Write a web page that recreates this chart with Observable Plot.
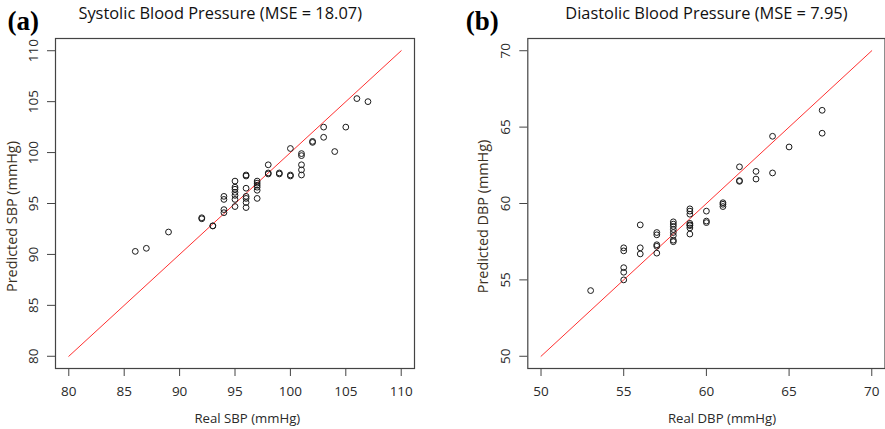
<!DOCTYPE html>
<html>
<head>
<meta charset="utf-8">
<script src="https://cdn.jsdelivr.net/npm/d3@7"></script>
<script src="https://cdn.jsdelivr.net/npm/@observablehq/plot@0.6"></script>
<style>
  html, body { margin: 0; padding: 0; background: #fff; }
  #wrap { position: relative; width: 885px; height: 429px; overflow: hidden; }
  #left, #right { position: absolute; top: 0; }
  #left { left: 0; }
  #right { left: 440px; }
</style>
</head>
<body>
<div id="wrap"><div id="left"></div><div id="right"></div></div>
<script>
// ---- Data ----
const sbpReal = [86, 87, 89, 92, 92, 93, 93,
  94, 94, 94, 94,
  95, 95, 95, 95, 95, 95, 95,
  96, 96, 96, 96, 96, 96, 96,
  97, 97, 97, 97, 97, 97,
  98, 98, 98, 99, 99,
  100, 100, 100,
  101, 101, 101, 101, 101,
  102, 102, 103, 103, 104, 105, 106, 107];
const sbpPred = [90.3, 90.6, 92.2, 93.5, 93.6, 92.8, 92.8,
  95.7, 95.4, 94.4, 94.1,
  97.2, 96.6, 96.4, 96.1, 95.8, 95.4, 94.7,
  97.8, 97.7, 96.5, 95.7, 95.5, 95.1, 94.6,
  97.2, 97.0, 96.8, 96.6, 96.3, 95.5,
  98.8, 97.9, 98.0, 97.9, 98.0,
  100.4, 97.7, 97.8,
  99.9, 99.7, 98.8, 98.3, 97.8,
  101.0, 101.1, 102.5, 101.5, 100.1, 102.5, 105.3, 105.0];

const dbpReal = [53,
  55, 55, 55, 55, 55,
  56, 56, 56,
  57, 57, 57, 57, 57,
  58, 58, 58, 58, 58, 58, 58, 58,
  59, 59, 59, 59, 59, 59, 59, 59,
  60, 60, 60,
  61, 61, 61,
  62, 62, 62, 63, 63, 64, 64, 65, 67, 67];
const dbpPred = [54.3,
  57.1, 56.9, 55.8, 55.5, 55.0,
  58.6, 57.1, 56.7,
  58.1, 57.95, 57.3, 57.2, 56.75,
  58.8, 58.65, 58.5, 58.3, 58.1, 57.9, 57.6, 57.5,
  59.65, 59.5, 59.3, 58.7, 58.6, 58.55, 58.4, 58.0,
  59.5, 58.85, 58.75,
  60.05, 59.95, 59.8,
  62.4, 61.45, 61.5, 62.1, 61.6, 64.4, 62.0, 63.7, 66.1, 64.6];

const sbpTicks = [80, 85, 90, 95, 100, 105, 110];
const dbpTicks = [50, 55, 60, 65, 70];
const sbpIdentity = [80, 110];
const dbpIdentity = [50, 70];

const panels = [
  {id: "left", tag: "(a)", title: "Systolic Blood Pressure (MSE = 18.07)",
   xLabel: "Real SBP (mmHg)", yLabel: "Predicted SBP (mmHg)",
   real: sbpReal, pred: sbpPred, ticks: sbpTicks, identity: sbpIdentity,
   domain: [78.8, 111.2], width: 440, mLeft: 55, mRight: 26,
   tagDx: -48, titleDx: -14.8, xLabDx: 12.3, yLabDx: -43},
  {id: "right", tag: "(b)", title: "Diastolic Blood Pressure (MSE = 7.95)",
   xLabel: "Real DBP (mmHg)", yLabel: "Predicted DBP (mmHg)",
   real: dbpReal, pred: dbpPred, ticks: dbpTicks, identity: dbpIdentity,
   domain: [49.2, 70.8], width: 445, mLeft: 87.3, mRight: 0.5,
   tagDx: -62, titleDx: 0, xLabDx: 15.6, yLabDx: -44}
];

const textColor = "#2a2a2a";

for (const p of panels) {
  const pts = p.real.map((x, i) => ({x, y: p.pred[i]}));
  const chart = Plot.plot({
    width: p.width,
    height: 429,
    marginLeft: p.mLeft,
    marginRight: p.mRight,
    marginTop: 38,
    marginBottom: 61,
    style: {fontFamily: "Open Sans", fontSize: "13px", color: textColor, background: "white", overflow: "visible"},
    x: {domain: p.domain, ticks: p.ticks},
    y: {domain: p.domain, ticks: p.ticks},
    marks: [
      Plot.line(p.identity, {x: d => d, y: d => d, stroke: "#ff3030", strokeWidth: 1}),
      Plot.dot(pts, {x: "x", y: "y", r: 2.9, stroke: "#1a1a1a", strokeWidth: 1, fill: "none"}),
      Plot.frame({stroke: "#444", strokeWidth: 1.2}),
      Plot.axisX({ticks: p.ticks, tickSize: 8, tickPadding: 10, label: null, stroke: "#444", fontSize: 13.5}),
      Plot.axisY({ticks: p.ticks, tickSize: 8, tickFormat: () => "", label: null, stroke: "#444"}),
      Plot.text(p.ticks, {y: d => d, text: d => String(d), frameAnchor: "left", dx: -22, rotate: -90,
        textAnchor: "middle", lineAnchor: "middle", fontSize: 13.5, fill: textColor}),
      Plot.text([p.xLabel], {frameAnchor: "bottom", dx: p.xLabDx, dy: 50, textAnchor: "middle", lineAnchor: "middle",
        fontSize: 13.2, fill: textColor}),
      Plot.text([p.yLabel], {frameAnchor: "left", dx: p.yLabDx, dy: 13, rotate: -90, textAnchor: "middle", lineAnchor: "middle",
        fontSize: 14.4, fill: "#3a2f22"}),
      Plot.text([p.title], {frameAnchor: "top", dx: p.titleDx, dy: -24.5, textAnchor: "middle", lineAnchor: "middle",
        fontSize: 16.4, fill: "#111"}),
      Plot.text([p.tag], {frameAnchor: "top-left", dx: p.tagDx, dy: -17, textAnchor: "start", lineAnchor: "middle",
        fontSize: 27, fontWeight: "bold", fontFamily: "Liberation Serif", fill: "#000"})
    ]
  });
  document.getElementById(p.id).appendChild(chart);
}
</script>
</body>
</html>
